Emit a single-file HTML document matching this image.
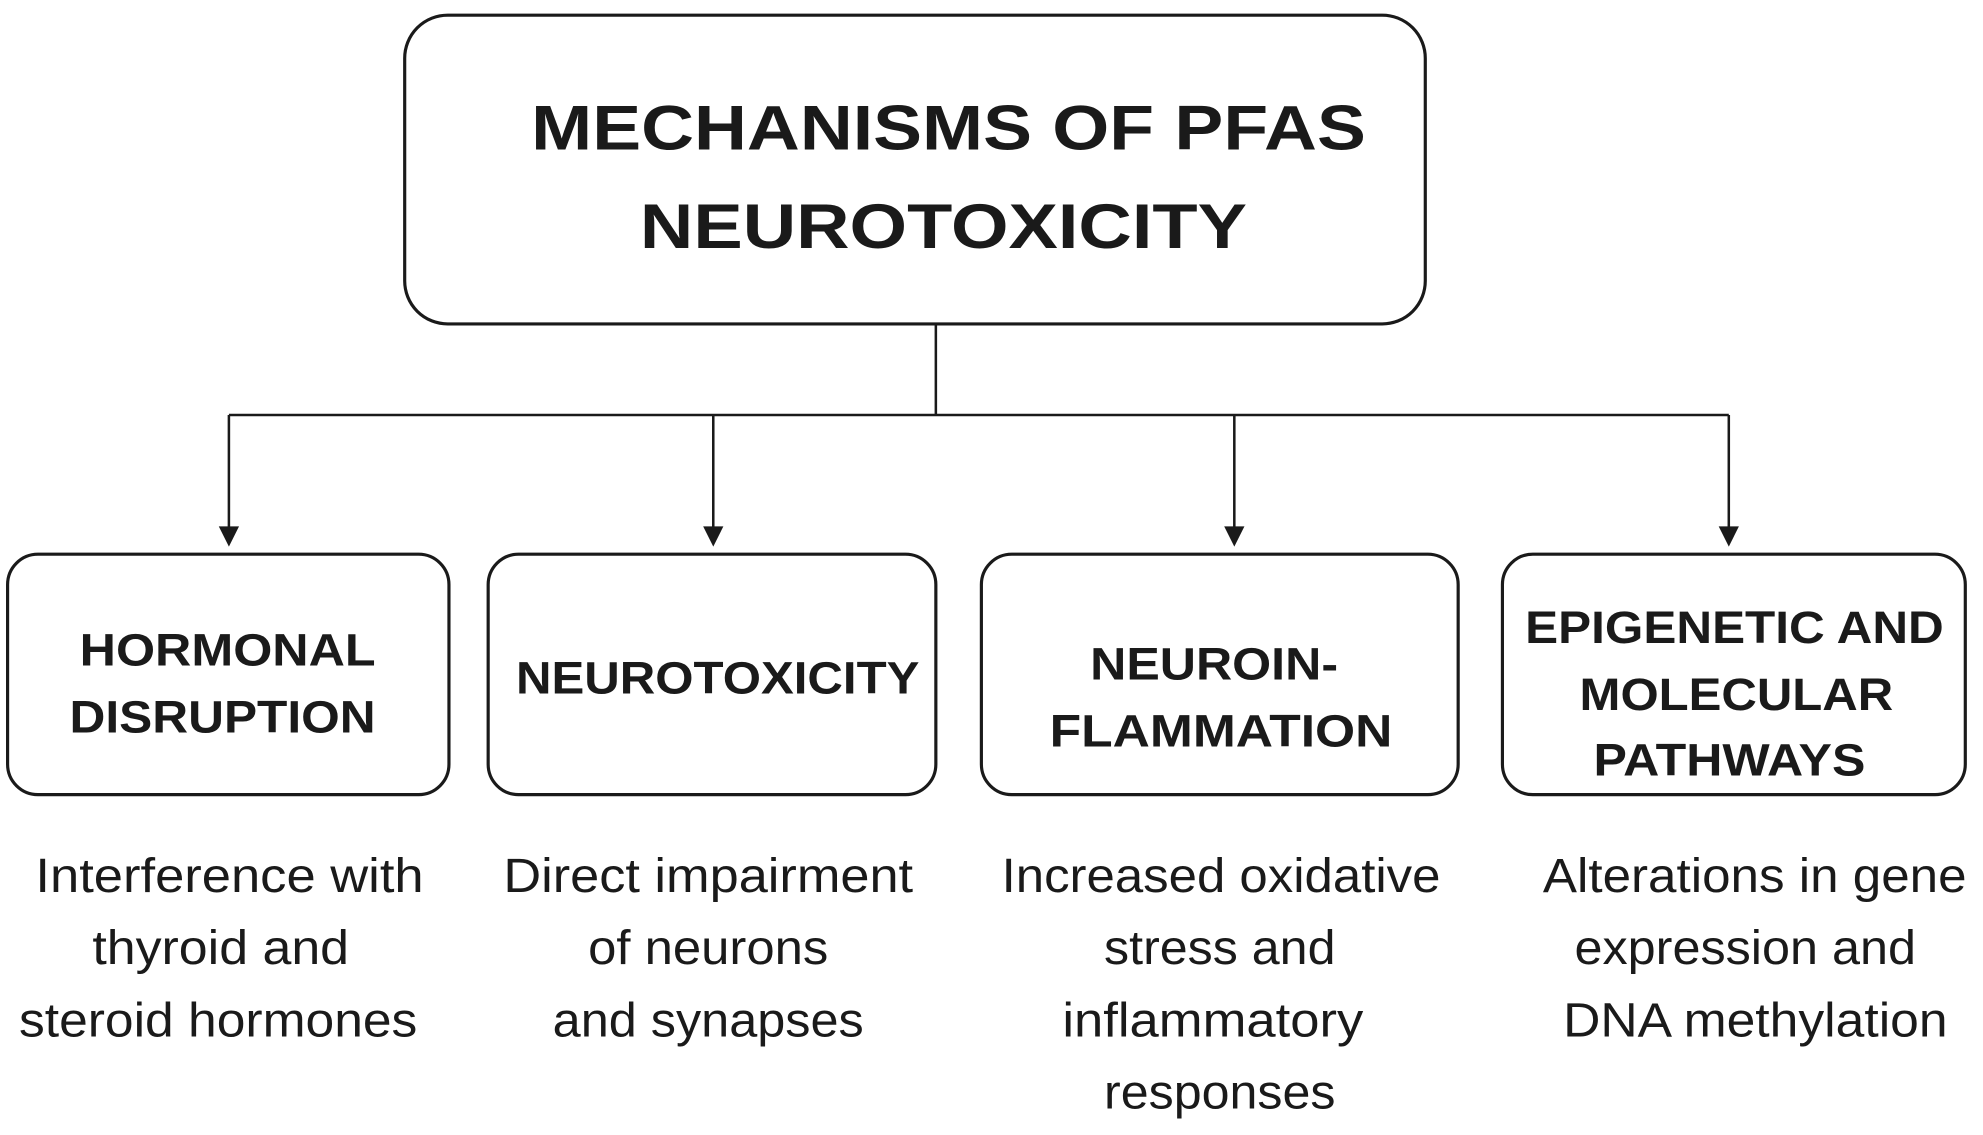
<!DOCTYPE html>
<html><head><style>html,body{margin:0;padding:0;background:#fff;}svg{display:block}</style></head>
<body>
<svg width="1983" height="1135" viewBox="0 0 1568 897" preserveAspectRatio="none" xmlns="http://www.w3.org/2000/svg">
<rect width="1568" height="897" fill="#fff"/>
<g fill="none" stroke="#1a1a1a" stroke-width="2.5">
<rect x="320" y="12" width="807" height="244" rx="34"/>
<rect x="6" y="438" width="349" height="190" rx="24"/>
<rect x="386" y="438" width="354" height="190" rx="24"/>
<rect x="776" y="438" width="377" height="190" rx="24"/>
<rect x="1188" y="438" width="366" height="190" rx="24"/>
<path d="M740 256V328M181 328H1367M181 328V418M564 328V418M976 328V418M1367 328V418" stroke-width="2"/>
</g>
<g fill="#1a1a1a">
<path d="M173 416h16l-8 16z"/><path d="M556 416h16l-8 16z"/><path d="M968 416h16l-8 16z"/><path d="M1359 416h16l-8 16z"/>
</g>
<g font-family="Liberation Sans, sans-serif" font-weight="bold" fill="#1a1a1a" lengthAdjust="spacingAndGlyphs">
<text x="420" y="118" font-size="50" textLength="660" lengthAdjust="spacingAndGlyphs">MECHANISMS OF PFAS</text>
<text x="506" y="196" font-size="50" textLength="480" lengthAdjust="spacingAndGlyphs">NEUROTOXICITY</text>
<text x="63" y="526" font-size="36" textLength="234" lengthAdjust="spacingAndGlyphs">HORMONAL</text>
<text x="55" y="579" font-size="36" textLength="242" lengthAdjust="spacingAndGlyphs">DISRUPTION</text>
<text x="408" y="548" font-size="36" textLength="319" lengthAdjust="spacingAndGlyphs">NEUROTOXICITY</text>
<text x="862" y="537" font-size="36" textLength="196" lengthAdjust="spacingAndGlyphs">NEUROIN-</text>
<text x="830" y="590" font-size="36" textLength="271" lengthAdjust="spacingAndGlyphs">FLAMMATION</text>
<text x="1206" y="508" font-size="36" textLength="331" lengthAdjust="spacingAndGlyphs">EPIGENETIC AND</text>
<text x="1249" y="561" font-size="36" textLength="248" lengthAdjust="spacingAndGlyphs">MOLECULAR</text>
<text x="1260" y="613" font-size="36" textLength="215" lengthAdjust="spacingAndGlyphs">PATHWAYS</text>
</g>
<g font-family="Liberation Sans, sans-serif" fill="#1a1a1a" font-size="38">
<text x="28" y="705" textLength="307" lengthAdjust="spacingAndGlyphs">Interference with</text>
<text x="73" y="762" textLength="203" lengthAdjust="spacingAndGlyphs">thyroid and</text>
<text x="15" y="819" textLength="315" lengthAdjust="spacingAndGlyphs">steroid hormones</text>
<text x="398" y="705" textLength="324" lengthAdjust="spacingAndGlyphs">Direct impairment</text>
<text x="465" y="762" textLength="190" lengthAdjust="spacingAndGlyphs">of neurons</text>
<text x="437" y="819" textLength="246" lengthAdjust="spacingAndGlyphs">and synapses</text>
<text x="792" y="705" textLength="347" lengthAdjust="spacingAndGlyphs">Increased oxidative</text>
<text x="873" y="762" textLength="183" lengthAdjust="spacingAndGlyphs">stress and</text>
<text x="840" y="819" textLength="238" lengthAdjust="spacingAndGlyphs">inflammatory</text>
<text x="873" y="876" textLength="183" lengthAdjust="spacingAndGlyphs">responses</text>
<text x="1220" y="705" textLength="335" lengthAdjust="spacingAndGlyphs">Alterations in gene</text>
<text x="1245" y="762" textLength="270" lengthAdjust="spacingAndGlyphs">expression and</text>
<text x="1236" y="819" textLength="304" lengthAdjust="spacingAndGlyphs">DNA methylation</text>
</g>
</svg>
</body></html>
